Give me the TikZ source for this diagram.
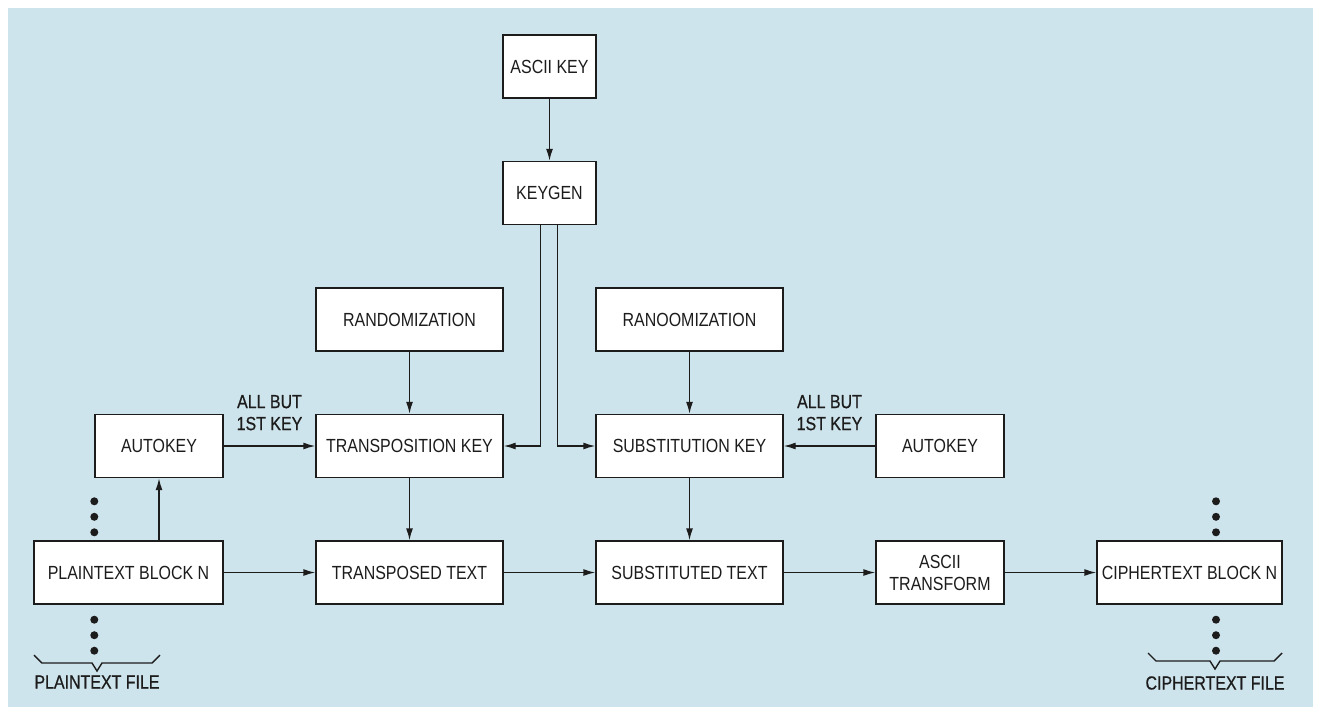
\documentclass[tikz,border=0pt]{standalone}
\usepackage{fontspec}
\setmainfont[FakeStretch=0.84]{Liberation Sans}
\newfontfamily\notefont[FakeStretch=0.84,FakeBold=0.7]{Liberation Sans}
\usepackage{xcolor}
\usetikzlibrary{arrows.meta,positioning,calc}
\definecolor{panelblue}{RGB}{206,228,236}
\definecolor{ink}{RGB}{28,28,28}

\begin{document}
\begin{tikzpicture}[
  font=\fontsize{9.5}{11}\selectfont,
  text=ink,
  node distance=31.05pt and 45.8pt,
  box/.style={draw=ink,fill=white,line width=0.7pt,align=center,inner sep=2pt,minimum height=31.5pt,minimum width=93.5pt},
  smallbox/.style={box,minimum width=64pt},
  keybox/.style={box,minimum width=46.5pt},
  arr/.style={-{Latex[length=6pt,width=3.5pt]},draw=ink,line width=0.7pt},
  lbl/.style={align=center,inner sep=2pt,font=\notefont\fontsize{9.5}{11}\selectfont},
  dotmark/.style={fill=ink},
]
\useasboundingbox (0,0) rectangle (660.5pt,360pt);
\fill[panelblue] (4pt,6.5pt) rectangle (656.5pt,356pt);

% bottom row
\node[box,minimum width=94.5pt] (ptb) at (64.25pt,73.75pt) {PLAINTEXT BLOCK N};
\node[box,right=of ptb] (tt) {TRANSPOSED TEXT};
\node[box,right=of tt] (st) {SUBSTITUTED TEXT};
\node[smallbox,right=of st] (asc) {ASCII\\TRANSFORM};
\node[box,minimum width=92.5pt,right=of asc] (ctb) {CIPHERTEXT BLOCK N};
% key rows
\node[box,above=of tt] (tk) {TRANSPOSITION KEY};
\node[box,above=of tk] (rl) {RANDOMIZATION};
\node[box,above=of st] (sk) {SUBSTITUTION KEY};
\node[box,above=of sk] (rr) {RANOOMIZATION};
\node[smallbox,above=of asc] (akr) {AUTOKEY};
\node[smallbox,above=of ptb.north east,anchor=south east] (akl) {AUTOKEY};
\node[keybox] (kg) at ($(rl)!0.5!(rr)+(0,63.25pt)$) {KEYGEN};
\node[keybox,above=of kg] (ak) {ASCII KEY};
% file labels
\node[lbl] (pfile) at (48.5pt,19pt) {PLAINTEXT FILE};
\node[lbl] (cfile) at (607.5pt,18.5pt) {CIPHERTEXT FILE};

\draw[arr] (ak) -- (kg);
\draw[arr] ($(kg.south)+(-4.5pt,0)$) |- (tk.east);
\draw[arr] ($(kg.south)+(4pt,0)$) |- (sk.west);
\draw[arr] (rl) -- (tk);
\draw[arr] (rr) -- (sk);
\draw[arr] (tk) -- (tt);
\draw[arr] (sk) -- (st);
\draw[arr] (akl) -- node[lbl,above=5.5pt]{ALL BUT\\1ST KEY} (tk);
\draw[arr] (akr) -- node[lbl,above=5.5pt]{ALL BUT\\1ST KEY} (sk);
\draw[arr] (akl.south |- ptb.north) -- (akl);
\draw[arr] (ptb) -- (tt);
\draw[arr] (tt) -- (st);
\draw[arr] (st) -- (asc);
\draw[arr] (asc) -- (ctb);

% block dots
\foreach \d in {4,11.75,19.5} {
  \fill[dotmark] ($(akl.west |- ptb.north)+(0,\d pt)$) circle (2pt);
  \fill[dotmark] ($(ctb.north)+(13.25pt,\d pt)$) circle (2pt);
}
\foreach \d in {7.5,15.25,23} {
  \fill[dotmark] ($(akl.west |- ptb.south)+(0,-\d pt)$) circle (2pt);
  \fill[dotmark] ($(ctb.south)+(13.25pt,-\d pt)$) circle (2pt);
}
% braces
\draw[ink,line width=0.7pt] (17pt,32.5pt) -- ++(4pt,-4pt) -- (46pt,28.5pt) -- (48.5pt,24.5pt) -- (51pt,28.5pt) -- (76pt,28.5pt) -- (80pt,32.5pt);
\draw[ink,line width=0.7pt] (574pt,33.5pt) -- ++(4pt,-4pt) -- (605pt,29.5pt) -- (607.5pt,25.5pt) -- (610pt,29.5pt) -- (637pt,29.5pt) -- (641pt,33.5pt);
\end{tikzpicture}
\end{document}
